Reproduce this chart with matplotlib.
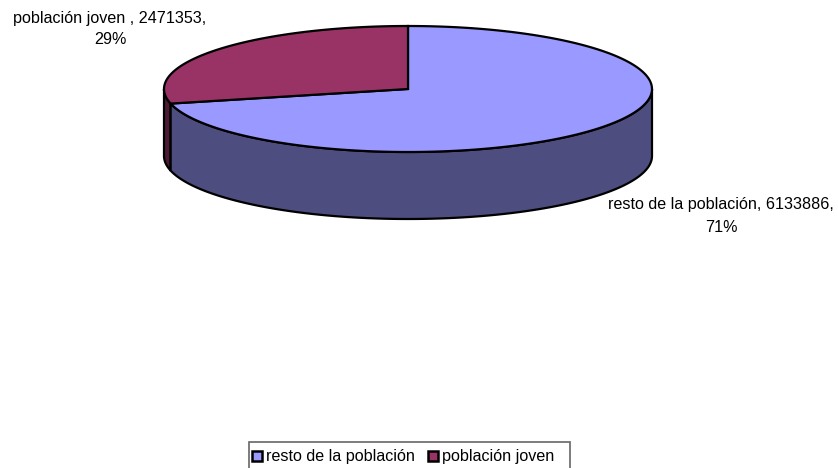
import matplotlib
matplotlib.use('Agg')
import matplotlib.pyplot as plt
import numpy as np
from matplotlib.patches import Polygon, Rectangle

plt.rcParams['font.family'] = ['Liberation Sans', 'DejaVu Sans']

categories = ['resto de la población', 'población joven']
values = [6133886, 2471353]
percents = ['71%', '29%']
top_colors = ['#9999FF', '#993366']
side_colors = ['#4D4D80', '#4D1A33']

# pie geometry, in figure pixels
cx, cy = 408, 89
rx, ry = 244, 63
depth = 67
lw = 1.6

fig = plt.figure(figsize=(8.38, 4.68), dpi=100)
ax = fig.add_axes([0, 0, 1, 1])
ax.set_xlim(0, 838)
ax.set_ylim(468, 0)
ax.axis('off')


def rim(a, b):
    t = np.radians(np.linspace(a, b, 200))
    return cx + rx * np.cos(t), cy - ry * np.sin(t)


fracs = np.array(values) / sum(values)
start = 90
a_end = start - fracs[0] * 360   # first slice runs clockwise from the top
b_end = a_end - fracs[1] * 360

# side walls, only the front half of the rim shows
x, y = rim(a_end + 360, 180)
ax.add_patch(Polygon(np.r_[np.c_[x, y], np.c_[x[::-1], y[::-1] + depth]], fc=side_colors[1], ec='black', lw=lw))
x, y = rim(0, a_end)
ax.add_patch(Polygon(np.r_[np.c_[x, y], np.c_[x[::-1], y[::-1] + depth]], fc=side_colors[0], ec='black', lw=lw))

# top faces
x, y = rim(start, a_end)
ax.add_patch(Polygon(np.r_[[[cx, cy]], np.c_[x, y]], fc=top_colors[0], ec='black', lw=lw))
x, y = rim(a_end, b_end)
ax.add_patch(Polygon(np.r_[[[cx, cy]], np.c_[x, y]], fc=top_colors[1], ec='black', lw=lw))

fs = 11.6
ax.text(721, 205, f'{categories[0]}, {values[0]},', ha='center', va='center', fontsize=fs)
ax.text(721, 228, percents[0], ha='center', va='center', fontsize=fs)
ax.text(110, 18, f'{categories[1]} , {values[1]},', ha='center', va='center', fontsize=fs)
ax.text(110, 39, percents[1], ha='center', va='center', fontsize=fs)

# legend box, its bottom edge is cut off by the image
ax.add_patch(Rectangle((249, 442), 321, 30, fc='white', ec='#666666', lw=1.2, clip_on=False))
ax.add_patch(Rectangle((252, 451), 10, 10, fc=top_colors[0], ec='black', lw=1.8))
ax.text(266, 456.5, categories[0], va='center', fontsize=fs)
ax.add_patch(Rectangle((428, 451), 10, 10, fc=top_colors[1], ec='black', lw=1.8))
ax.text(442, 456.5, categories[1], va='center', fontsize=fs)

fig.savefig('out.png', dpi=100)
